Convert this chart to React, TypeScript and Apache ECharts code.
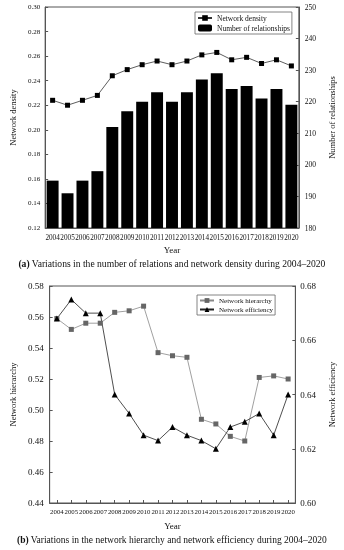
import React, { useEffect, useRef } from "react";
import * as echarts from "echarts";

const years = ["2004","2005","2006","2007","2008","2009","2010","2011","2012","2013","2014","2015","2016","2017","2018","2019","2020"];
const networkDensity = [0.224,0.220,0.224,0.228,0.244,0.249,0.253,0.256,0.253,0.256,0.261,0.263,0.257,0.259,0.254,0.257,0.252];
const relationships = [195,191,195,198,212,217,220,223,220,223,227,229,224,225,221,224,219];
const networkHierarchy = [0.559,0.552,0.556,0.556,0.563,0.564,0.567,0.537,0.535,0.534,0.494,0.491,0.483,0.480,0.521,0.522,0.520];
const networkEfficiency = [0.668,0.675,0.670,0.670,0.640,0.633,0.625,0.623,0.628,0.625,0.623,0.620,0.628,0.630,0.633,0.625,0.640];

const FONT = "Liberation Serif";
const AX = "#555";

export default function App() {
  const ref = useRef<HTMLDivElement>(null);
  useEffect(() => {
    if (!ref.current) return;
    const chart = echarts.init(ref.current, undefined, { renderer: "svg" });
    const axisCommon = {
      axisLine: { show: true, lineStyle: { color: AX, width: 1 } },
      splitLine: { show: false },
    };
    chart.setOption({
      animation: false,
      textStyle: { fontFamily: FONT, color: "#111" },
      grid: [
        { left: 33, right: 36, top: 7, bottom: 322, show: true, borderColor: AX, borderWidth: 1 },
        { left: 39, right: 34, top: 286, bottom: 47, show: true, borderColor: AX, borderWidth: 1 },
      ],
      legend: [
        {
          data: ["Network density", "Number of relationships"],
          left: 195, top: 12, orient: "vertical",
          itemWidth: 14, itemHeight: 7, itemGap: 2,
          padding: [2, 2, 2, 2],
          borderColor: "#666", borderWidth: 0.8,
          textStyle: { fontFamily: FONT, fontSize: 7.5, color: "#111" },
        },
        {
          data: ["Network hierarchy", "Network efficiency"],
          left: 197, top: 295, orient: "vertical",
          itemWidth: 14, itemHeight: 6, itemGap: 2,
          padding: [2, 2, 2, 2],
          borderColor: "#666", borderWidth: 0.8,
          textStyle: { fontFamily: FONT, fontSize: 7, color: "#111" },
        },
      ],
      xAxis: [
        {
          type: "category", gridIndex: 0, data: years, boundaryGap: true,
          ...axisCommon,
          axisTick: { show: false },
          axisLabel: { fontFamily: FONT, fontSize: 7.2, color: "#111", margin: 6, interval: 0 },
          name: "Year", nameLocation: "middle", nameGap: 17,
          nameTextStyle: { fontFamily: FONT, fontSize: 9, color: "#111" },
        },
        {
          type: "category", gridIndex: 1, data: years, boundaryGap: true,
          ...axisCommon,
          axisTick: { show: true, inside: true, alignWithLabel: true, length: 3, lineStyle: { color: AX } },
          axisLabel: { fontFamily: FONT, fontSize: 6.8, color: "#111", margin: 5, interval: 0 },
          name: "Year", nameLocation: "middle", nameGap: 18,
          nameTextStyle: { fontFamily: FONT, fontSize: 9, color: "#111" },
        },
      ],
      yAxis: [
        {
          type: "value", gridIndex: 0, min: 0.12, max: 0.30, interval: 0.02, position: "left",
          ...axisCommon,
          axisTick: { show: true, inside: true, length: 3, lineStyle: { color: AX } },
          axisLabel: { fontFamily: FONT, fontSize: 7, color: "#111", margin: 5, formatter: (v: number) => v.toFixed(2) },
          name: "Network density", nameLocation: "middle", nameGap: 21,
          nameTextStyle: { fontFamily: FONT, fontSize: 8.5, color: "#111" },
        },
        {
          type: "value", gridIndex: 0, min: 180, max: 250, interval: 10, position: "right",
          ...axisCommon,
          axisTick: { show: true, inside: true, length: 3, lineStyle: { color: AX } },
          axisLabel: { fontFamily: FONT, fontSize: 7.5, color: "#111", margin: 6 },
          name: "Number of relationships", nameLocation: "middle", nameGap: 25,
          nameTextStyle: { fontFamily: FONT, fontSize: 8.5, color: "#111" },
        },
        {
          type: "value", gridIndex: 1, min: 0.44, max: 0.58, interval: 0.02, position: "left",
          ...axisCommon,
          axisTick: { show: true, inside: true, length: 3, lineStyle: { color: AX } },
          axisLabel: { fontFamily: FONT, fontSize: 9, color: "#111", margin: 6, formatter: (v: number) => v.toFixed(2) },
          name: "Network hierarchy", nameLocation: "middle", nameGap: 26,
          nameTextStyle: { fontFamily: FONT, fontSize: 8.5, color: "#111" },
        },
        {
          type: "value", gridIndex: 1, min: 0.60, max: 0.68, interval: 0.02, position: "right",
          ...axisCommon,
          axisTick: { show: true, inside: true, length: 3, lineStyle: { color: AX } },
          axisLabel: { fontFamily: FONT, fontSize: 9, color: "#111", margin: 5, formatter: (v: number) => v.toFixed(2) },
          name: "Network efficiency", nameLocation: "middle", nameGap: 25,
          nameTextStyle: { fontFamily: FONT, fontSize: 8.5, color: "#111" },
        },
      ],
      series: [
        {
          name: "Number of relationships", type: "bar", xAxisIndex: 0, yAxisIndex: 1,
          data: relationships, barCategoryGap: "20%",
          itemStyle: { color: "#000" },
        },
        {
          name: "Network density", type: "line", xAxisIndex: 0, yAxisIndex: 0,
          data: networkDensity, symbol: "rect", symbolSize: 5,
          lineStyle: { color: "#333", width: 0.8 },
          itemStyle: { color: "#000" },
        },
        {
          name: "Network hierarchy", type: "line", xAxisIndex: 1, yAxisIndex: 2,
          data: networkHierarchy, symbol: "rect", symbolSize: 5,
          lineStyle: { color: "#888", width: 0.8 },
          itemStyle: { color: "#666" },
        },
        {
          name: "Network efficiency", type: "line", xAxisIndex: 1, yAxisIndex: 3,
          data: networkEfficiency, symbol: "triangle", symbolSize: 6,
          lineStyle: { color: "#222", width: 0.8 },
          itemStyle: { color: "#000" },
        },
      ],
      graphic: [
        {
          type: "text", left: "center", top: 258,
          style: {
            text: "{b|(a)} Variations in the number of relations and network density during 2004–2020",
            fontFamily: FONT, fontSize: 9.6, fill: "#111",
            rich: { b: { fontFamily: FONT, fontSize: 9.6, fontWeight: "bold", fill: "#111" } },
          },
        },
        {
          type: "text", left: "center", top: 535,
          style: {
            text: "{b|(b)} Variations in the network hierarchy and network efficiency during 2004–2020",
            fontFamily: FONT, fontSize: 9.5, fill: "#111",
            rich: { b: { fontFamily: FONT, fontSize: 9.5, fontWeight: "bold", fill: "#111" } },
          },
        },
      ],
    });
    return () => chart.dispose();
  }, []);
  return <div ref={ref} style={{ position: "fixed", left: 0, top: 0, width: 344, height: 550 }} />;
}
